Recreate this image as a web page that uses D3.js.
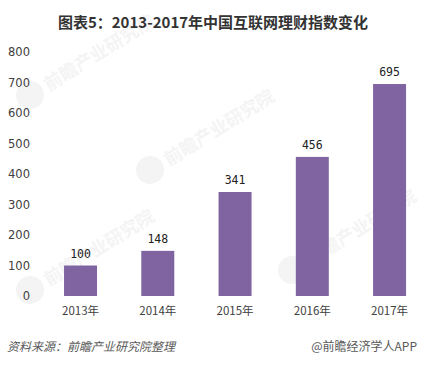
<!DOCTYPE html>
<html><head><meta charset="utf-8">
<script src="https://cdn.jsdelivr.net/npm/d3@7"></script>
<style>body{margin:0;background:#fff;}svg{display:block;}</style>
</head><body>
<script>
const categories = ["2013年","2014年","2015年","2016年","2017年"];
const values = [100,148,341,456,695];
const yTicks = [0,100,200,300,400,500,600,700,800];
const title = "图表5：2013-2017年中国互联网理财指数变化";
const source = "资料来源：前瞻产业研究院整理";
const credit = "@前瞻经济学人APP";

const W = 426, H = 365;
const svg = d3.select("body").append("svg").attr("width", W).attr("height", H);
const cjk = "'Noto Sans CJK SC', 'DejaVu Sans', sans-serif";

// faint watermarks
const wm = svg.append("g").attr("fill", "#f4f4f4").attr("font-family", cjk).attr("font-weight", "bold");
[[30,95],[150,170],[30,290],[292,270]].forEach(([x,y]) => {
  const g = wm.append("g").attr("transform", `translate(${x},${y}) rotate(-32)`);
  g.append("circle").attr("cx", 0).attr("cy", 0).attr("r", 14).attr("fill", "#f4f4f4");
  g.append("text").attr("x", 18).attr("y", 7).attr("font-size", 18).text("前瞻产业研究院");
});

const x = d3.scaleBand().domain(categories).range([41.9, 428.2]).paddingInner(0.573).paddingOuter(0.2865);
const y = d3.scaleLinear().domain([0, 800]).range([296, 52]);

svg.append("text").attr("x", 213).attr("y", 28).attr("text-anchor", "middle")
  .attr("font-family", cjk).attr("font-weight", "bold").attr("font-size", 15).attr("fill", "#333")
  .text(title);

// y axis
const yAxis = svg.append("g").attr("transform", "translate(30,0)")
  .call(d3.axisLeft(y).tickValues(yTicks).tickSize(0).tickPadding(0).tickFormat(d3.format("d")));
yAxis.select(".domain").remove();
yAxis.selectAll("text").attr("font-family", "'DejaVu Sans', sans-serif").attr("font-size", 11.5).attr("fill", "#404040");

// x axis
const xAxis = svg.append("g").attr("transform", "translate(0,300)")
  .call(d3.axisBottom(x).tickSize(0).tickPadding(7));
xAxis.select(".domain").remove();
xAxis.selectAll("text").attr("font-family", cjk).attr("font-size", 11.5).attr("fill", "#404040");

// bars
svg.append("g").selectAll("rect").data(values).join("rect")
  .attr("x", (d,i) => x(categories[i])).attr("width", x.bandwidth())
  .attr("y", d => y(d)).attr("height", d => y(0) - y(d))
  .attr("fill", "#8064a2");

svg.append("g").selectAll("text").data(values).join("text")
  .attr("x", (d,i) => x(categories[i]) + x.bandwidth()/2)
  .attr("y", d => y(d) - 8).attr("text-anchor", "middle")
  .attr("font-family", "'DejaVu Sans Mono', monospace").attr("font-size", 11.5).attr("fill", "#222")
  .text(d => d);

svg.append("text").attr("x", 7).attr("y", 351).attr("font-family", cjk).attr("font-size", 12)
  .attr("font-style", "italic").attr("fill", "#595959").text(source);
svg.append("text").attr("x", 417).attr("y", 351).attr("text-anchor", "end").attr("font-family", cjk)
  .attr("font-size", 12).attr("fill", "#595959").text(credit);
</script>
</body></html>
